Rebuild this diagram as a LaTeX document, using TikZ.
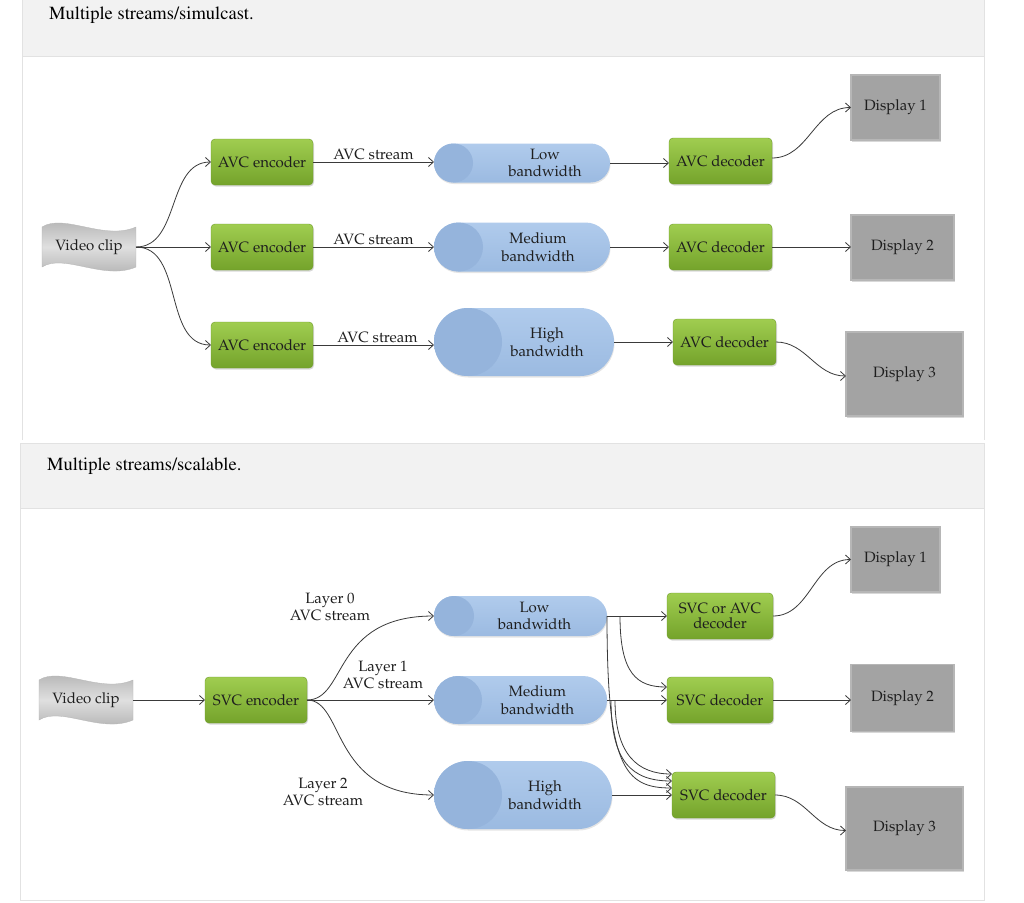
\documentclass[tikz,border=0pt]{standalone}
\usepackage[T1]{fontenc}
\usetikzlibrary{arrows.meta,shadows,calc}
\definecolor{hdr}{HTML}{F2F2F2}
\definecolor{panelline}{HTML}{E2E2E2}
\definecolor{grtop}{HTML}{A0CD50}
\definecolor{grbot}{HTML}{74A32B}
\definecolor{gredge}{HTML}{6F9C2A}
\definecolor{txt}{HTML}{1E1E1E}
\definecolor{linec}{HTML}{3A3A3A}
\definecolor{pipetop}{HTML}{B0CBEC}
\definecolor{pipebot}{HTML}{9BBAE1}
\definecolor{pipeface}{HTML}{95B4DC}
\definecolor{dispgray}{HTML}{A3A3A3}
\definecolor{dispedge}{HTML}{B6B6B6}
\newcommand\palfont{\fontencoding{T1}\fontsize{15}{17.5}\fontfamily{ppl}\selectfont}
\newcommand\timesfont{\fontencoding{T1}\fontsize{18.5}{22}\fontfamily{ptm}\selectfont}
\newcommand\videoclip[3]{%
  \begin{scope}[shift={(#2,#3)}]
    \shade[top color=gray!66, bottom color=gray!66, middle color=gray!25, draw=gray!58, line width=0.3pt]
      (-47,-20) .. controls (-25,-34) and (15,-6) .. (47,-20)
      -- (47,20) .. controls (15,34) and (-25,6) .. (-47,20) -- cycle;
  \end{scope}
  \node[vtext] (#1) at (#2,#3) {Video clip};
}
\newcommand\pipe[8]{%
  \node[pipe, minimum width=#4pt, minimum height=#5pt, rounded corners=#6pt] (#1) at (#2,#3) {};
  \fill[pipeface] ($(#1.west)+(#6,0)$) circle[radius=#6];
  \node[ptext] (#1t) at ($(#1.center)+(#7,0)$) {#8};
}
\begin{document}
\begin{tikzpicture}[x=1pt,y=-1pt,
  conn/.style={draw=linec, line width=0.8pt, -{Straight Barb[length=5pt,width=9pt,line width=0.8pt]}},
  gbox/.style={rectangle, rounded corners=4pt, top color=grtop, bottom color=grbot, draw=gredge, line width=0.4pt,
    drop shadow={shadow xshift=1pt, shadow yshift=-1.5pt, opacity=0.3}, font=\palfont, text=txt, align=center,
    minimum width=102pt, minimum height=46pt, inner sep=2pt, outer sep=0pt},
  disp/.style={rectangle, fill=dispgray, draw=dispedge, line width=1.5pt,
    drop shadow={shadow xshift=1pt, shadow yshift=-1.5pt, opacity=0.3}, font=\palfont, text=txt, outer sep=0pt},
  pipe/.style={rectangle, top color=pipetop, bottom color=pipebot, outer sep=0pt,
    drop shadow={shadow xshift=0.5pt, shadow yshift=-1.5pt, opacity=0.2}},
  ptext/.style={font=\palfont, text=txt, align=center, inner sep=0pt},
  vtext/.style={font=\palfont, text=txt, minimum width=94pt, minimum height=40pt, inner sep=0pt, outer sep=0pt},
  lbl/.style={font=\palfont, text=txt, align=center, inner sep=1pt},
  hdrtext/.style={font=\timesfont, text=black, anchor=west, inner sep=0pt}
]
\useasboundingbox (0,0) rectangle (1024,902);
\fill[white] (0,0) rectangle (1024,902);
% panels
\draw[panelline, fill=hdr] (22,-2) rectangle (984,56.5);
\draw[panelline] (22,56.5) -- (22,440) (984,56.5) -- (984,440);
\draw[panelline, fill=hdr] (20,443) rectangle (984,508);
\draw[panelline] (20,508) rectangle (984,900);
\node[hdrtext] (h1) at (49,15) {Multiple streams/simulcast.};
\node[hdrtext] (h2) at (47,466) {Multiple streams/scalable.};

% ---------- top diagram ----------
\videoclip{vc1}{89}{247}
\node[gbox] (enc1) at (262,162) {AVC encoder};
\node[gbox] (enc2) at (262,247) {AVC encoder};
\node[gbox] (enc3) at (262,345) {AVC encoder};
\pipe{p1}{522}{163}{176}{39}{19.5}{23}{Low\\bandwidth}
\pipe{p2}{522}{247}{176}{49}{24.5}{16}{Medium\\bandwidth}
\pipe{p3}{524}{342}{180}{68}{34}{23}{High\\bandwidth}
\node[gbox, minimum width=103pt] (dec1) at (720.5,161) {AVC decoder};
\node[gbox, minimum width=103pt] (dec2) at (720.5,247) {AVC decoder};
\node[gbox, minimum width=103pt] (dec3) at (724.5,342) {AVC decoder};
\node[disp, minimum width=89pt, minimum height=65pt] (disp1) at (895.5,107.5) {Display 1};
\node[disp, minimum width=103pt, minimum height=65pt] (disp2) at (902.5,247.5) {Display 2};
\node[disp, minimum width=117pt, minimum height=84pt] (disp3) at (904.5,374) {Display 3};

\draw[conn] (vc1.east) to[out=0,in=180] (enc1.west);
\draw[conn] (vc1.east) -- (enc2.west);
\draw[conn] (vc1.east) to[out=0,in=180] (enc3.west);
\draw[conn] (enc1.east) -- node[lbl, above=1pt] (s1) {AVC stream} (enc1.east -| p1.west);
\draw[conn] (enc2.east) -- node[lbl, above=1pt] (s2) {AVC stream} (enc2.east -| p2.west);
\draw[conn] (enc3.east) -- node[lbl, above=1pt, xshift=4pt] (s3) {AVC stream} (enc3.east -| p3.west);
\draw[conn] (p1.east) -- (p1.east -| dec1.west);
\draw[conn] (p2.east) -- (p2.east -| dec2.west);
\draw[conn] (p3.east) -- (p3.east -| dec3.west);
\draw[conn] ($(dec1.east)+(0,-3)$) to[out=0,in=180] (disp1.west);
\draw[conn] (dec2.east) -- (dec2.east -| disp2.west);
\draw[conn] (dec3.east) to[out=0,in=180] ($(disp3.west)+(0,2)$);

% ---------- bottom diagram ----------
\videoclip{vc2}{86}{700}
\node[gbox] (svc) at (256,700) {SVC encoder};
\pipe{q1}{520.5}{616}{173}{40}{20}{14}{Low\\bandwidth}
\pipe{q2}{520.5}{700}{173}{48}{24}{17}{Medium\\bandwidth}
\pipe{q3}{523}{795}{178}{68}{34}{22}{High\\bandwidth}
\node[gbox, minimum width=106pt] (d1) at (720,616) {SVC or AVC\\[-2pt]decoder};
\node[gbox, minimum width=106pt] (d2) at (720,700) {SVC decoder};
\node[gbox, minimum width=103pt] (d3) at (723.5,795) {SVC decoder};
\node[disp, minimum width=89pt, minimum height=65pt] (e1) at (895.5,559.5) {Display 1};
\node[disp, minimum width=103pt, minimum height=67pt] (e2) at (902.5,698) {Display 2};
\node[disp, minimum width=117pt, minimum height=83pt] (e3) at (904.5,828.5) {Display 3};

\node[lbl] (l0) at (330,607) {Layer 0\\[-1pt]AVC stream};
\node[lbl] (l1) at (383,675) {Layer 1\\[-1pt]AVC stream};
\node[lbl] (l2) at (323,792) {Layer 2\\[-1pt]AVC stream};

\draw[conn] (vc2.east) -- (svc.west);
\draw[conn] (svc.east) .. controls ($(svc.east)+(40,0)$) and ($(q1.west)+(-102,0)$) .. (q1.west);
\draw[conn] (svc.east) -- (q2.west);
\draw[conn] (svc.east) .. controls ($(svc.east)+(38,0)$) and ($(q3.west)+(-104,0)$) .. (q3.west);

\coordinate (b1) at ($(q1.east)+(13,0)$);
\coordinate (t2a) at ($(d2.west)+(0,-13)$);
\coordinate (t3a) at ($(d3.west)+(0,-21)$);
\coordinate (t3b) at ($(d3.west)+(0,-14)$);
\coordinate (t3c) at ($(d3.west)+(0,-7)$);
\coordinate (m1) at ($(q2.east)+(4,0)$);
\coordinate (m2) at ($(q2.east)+(8,0)$);
\draw[conn] (q1.east) -- (q1.east -| d1.west);
\draw[conn] (b1) .. controls ($(b1)+(0,58)$) and ($(t2a)+(-30,0)$) .. (t2a);
\draw[conn] (q1.east) .. controls ($(q1.east)+(0,150)$) and ($(t3c)+(-48,0)$) .. (t3c);
\draw[conn] (m1) .. controls ($(m1)+(0,62)$) and ($(t3b)+(-40,0)$) .. (t3b);
\draw[conn] (m2) .. controls ($(m2)+(0,55)$) and ($(t3a)+(-34,0)$) .. (t3a);
\draw[conn] (q2.east) -- (q2.east -| d2.west);
\draw[conn] (q3.east) -- (q3.east -| d3.west);
\draw[conn] (d1.east) to[out=0,in=180] (e1.west);
\draw[conn] (d2.east) -- (d2.east -| e2.west);
\draw[conn] (d3.east) to[out=0,in=180] ($(e3.west)+(0,2)$);
\end{tikzpicture}
\end{document}
